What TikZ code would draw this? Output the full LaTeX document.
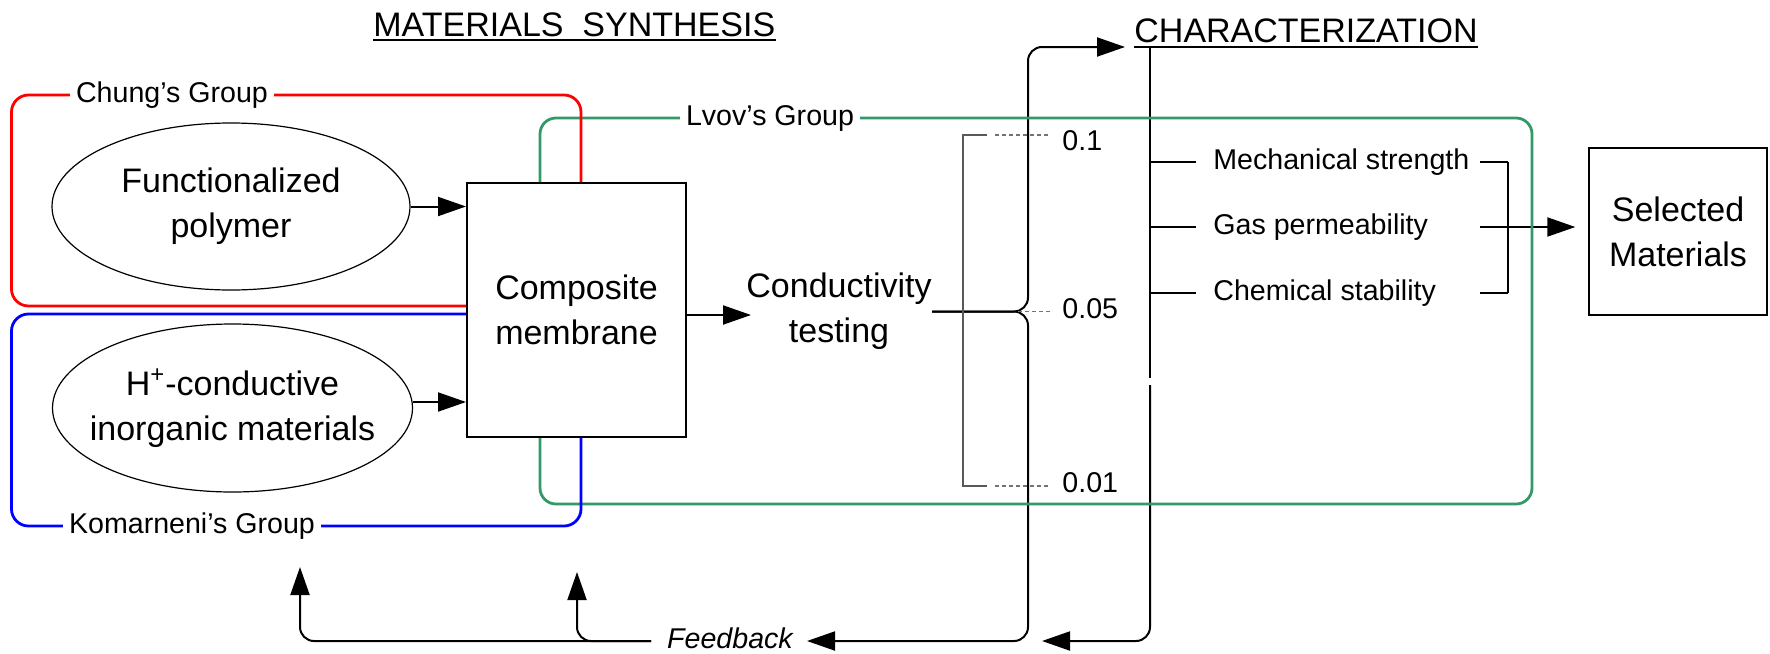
\documentclass[tikz,border=0pt]{standalone}
\usepackage{fontspec}
\setmainfont{Liberation Sans}
\usetikzlibrary{arrows.meta,calc,shapes.geometric}
\definecolor{grpgreen}{RGB}{51,153,102}
\begin{document}
\begin{tikzpicture}[x=0.5pt,y=-0.5pt,
  big/.style={font=\fontsize{17}{22.5}\selectfont, align=center, inner sep=0pt},
  small/.style={font=\fontsize{14.3}{17}\selectfont, inner sep=0pt},
  ttl/.style={font=\fontsize{17}{20}\selectfont, inner sep=0pt},
  lbl/.style={small, fill=white, inner xsep=3pt, inner ysep=1pt},
  ell/.style={draw, ellipse, line width=0.6pt, inner sep=0pt},
  conn/.style={line width=1pt},
  arr/.style={-{Triangle[length=14pt,width=9.5pt]}, line width=1pt},
  rc/.style={rounded corners=7pt},
  grpline/.style={line width=1.4pt, rounded corners=8.5pt},
  graybr/.style={line width=0.6pt, draw=black!65},
  graydash/.style={line width=0.6pt, draw=black!55, dash pattern=on 2pt off 1.5pt}
]
\useasboundingbox (0,0) rectangle (1770,653);

% titles
\node[ttl, anchor=base west] (t1) at (373,36) {MATERIALS\ \ SYNTHESIS};
\node[ttl, anchor=base west] (t2) at (1134,42) {CHARACTERIZATION};
\draw[line width=1.1pt] ([yshift=-2pt]t1.base west) -- ([yshift=-2pt]t1.base east);
\draw[line width=1.1pt] ([yshift=-2.5pt]t2.base west) -- ([yshift=-2.5pt]t2.base east);

% main nodes
\node[ell, minimum width=179pt, minimum height=83.5pt] (e1) at (231,206.5) {};
\node[big] (e1t) at (e1.center) {Functionalized\\polymer};
\node[ell, minimum width=180pt, minimum height=84pt] (e2) at (232.5,408) {};
\node[big] (e2t) at (e2.center) {H\textsuperscript{+}-conductive\\inorganic materials};
\node[draw, line width=1pt, minimum width=109.5pt, minimum height=127pt, big] (box) at (576.5,310) {Composite\\membrane};
\node[big] (cond) at (839,311.5) {Conductivity\\testing};
\node[draw, line width=0.7pt, minimum width=89pt, minimum height=83.5pt, big] (sel) at (1678,231.5) {Selected\\Materials};

% characterization items
\node[small, anchor=west] (ms) at (1213,162) {Mechanical strength};
\node[small, anchor=west] (gp) at (1213,227) {Gas permeability};
\node[small, anchor=west] (cs) at (1213,293) {Chemical stability};

% conductivity values
\node[small, anchor=west] (v1) at (1062,141) {0.1};
\node[small, anchor=west] (v2) at (1062,309) {0.05};
\node[small, anchor=west] (v3) at (1062,483) {0.01};

% feedback
\node[small, font=\fontsize{14.3}{17}\selectfont\itshape] (fb) at (730,638) {Feedback};

% coordinates
\coordinate (chartip) at (1125,47);
\coordinate (charv) at (1150,47);
\coordinate (charv2) at (1150,385);
\coordinate (fbtip) at (807,641);
\coordinate (rtip) at (1042,641);
\coordinate (fbL) at (651,641);
\coordinate (upA) at (300,567);
\coordinate (upB) at (577,572);
\coordinate (br) at (1508,227);

% arrows into composite
\draw[arr] (e1.east) -- (e1.east -| box.west);
\draw[arr] ([yshift=3pt]e2.east) -- ([yshift=3pt]e2.east -| box.west);
\draw[arr, shorten >=-2.5pt] ([yshift=-2.5pt]box.east) -- ([yshift=-2.5pt]box.east -| cond.west);

% conductivity brace
\draw[arr, rc] (cond.east) -- (cond.east -| 1028,0) -- (1028,47) -- (chartip);
\draw[arr, rc] (cond.east) -- (cond.east -| 1028,0) -- (1028,641) -- (fbtip);

% gray bracket
\draw[graybr] (987,135) -- (963,135) -- (963,486) -- (987,486);
\draw[graydash, shorten >=6pt] (995,135) -- (v1.west |- 0,135);
\draw[graydash, shorten >=6pt] (1018,311.5) -- (v2.west |- 0,311.5);
\draw[graydash, shorten >=6pt] (995,486) -- (v3.west |- 0,486);

% characterization spine and return
\draw[conn] (charv) -- (1150,378);
\draw[arr, rc] (charv2) -- (1150,641) -- (rtip);
\foreach \n in {ms,gp,cs}{
  \draw[conn, shorten >=8.5pt] (\n.west -| charv) -- (\n.west);
  \draw[conn] (\n.west -| 1480,0) -- (\n.west -| br);
}
\draw[conn] (ms.west -| br) -- (cs.west -| br);
\draw[arr, shorten >=6.5pt] (br) -- (br -| sel.west);

% feedback arrows
\draw[arr, rc] (fbL) -- (300,641) -- (upA);
\draw[arr, rc] (fbL) -- (577,641) -- (upB);

% group outlines
\draw[grpline, draw=grpgreen, rounded corners=8pt] (box.north -| 540,0) -- (540,118) -- (1532,118) -- (1532,504) -- (540,504) -- (box.south -| 540,0);
\draw[grpline, draw=red] (box.west |- 0,306) -- (11.5,306) -- (11.5,95) -- (581,95) -- (box.north -| 581,0);
\draw[grpline, draw=blue] (box.west |- 0,314) -- (11.5,314) -- (11.5,526) -- (581,526) -- (box.south -| 581,0);

\node[lbl] (chung) at (172,95) {Chung’s Group};
\node[lbl] (lvov) at (770,118) {Lvov’s Group};
\node[lbl] (koma) at (192,526) {Komarneni’s Group};
\end{tikzpicture}
\end{document}
